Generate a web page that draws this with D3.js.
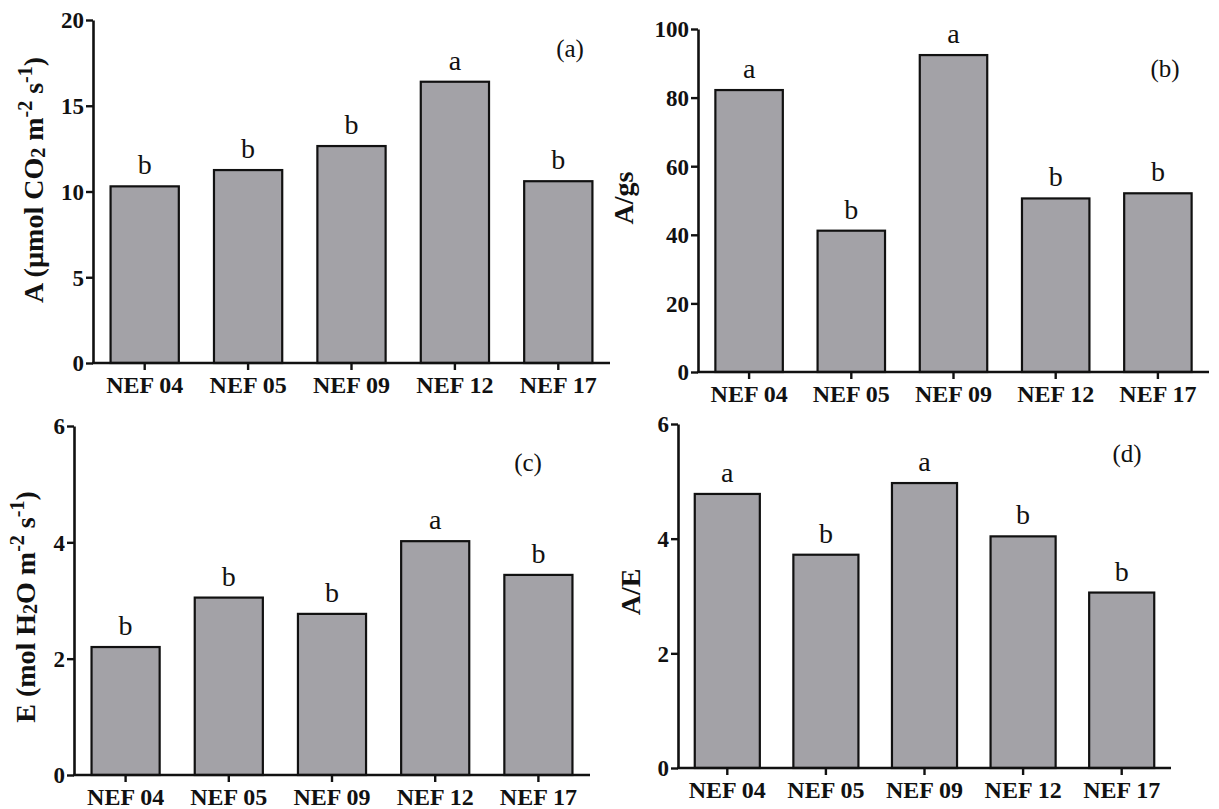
<!DOCTYPE html>
<html>
<head>
<meta charset="utf-8">
<script src="https://cdn.jsdelivr.net/npm/d3@7"></script>
<style>
  html, body { margin: 0; padding: 0; background: #fff; }
  svg { display: block; }
  text { font-family: "Liberation Serif", "Times New Roman", serif; fill: #111; }
</style>
</head>
<body>
<svg id="chart" width="1219" height="809"></svg>
<script>
// Genotypes on the x axis
const categories = ["NEF 04", "NEF 05", "NEF 09", "NEF 12", "NEF 17"];

// (a) net photosynthesis, µmol CO2 m-2 s-1
const photosynthesis = [10.3, 11.25, 12.65, 16.4, 10.6];
const photosynthesisGroups = ["b", "b", "b", "a", "b"];
const photosynthesisTicks = [0, 5, 10, 15, 20];

// (b) intrinsic water-use efficiency A/gs
const aGs = [82.2, 41.2, 92.4, 50.6, 52.1];
const aGsGroups = ["a", "b", "a", "b", "b"];
const aGsTicks = [0, 20, 40, 60, 80, 100];

// (c) transpiration, mol H2O m-2 s-1
const transpiration = [2.2, 3.05, 2.77, 4.02, 3.44];
const transpirationGroups = ["b", "b", "b", "a", "b"];
const transpirationTicks = [0, 2, 4, 6];

// (d) instantaneous water-use efficiency A/E
const aE = [4.78, 3.72, 4.97, 4.04, 3.06];
const aEGroups = ["a", "b", "a", "b", "b"];
const aETicks = [0, 2, 4, 6];

const SERIF = "'Liberation Serif', 'Times New Roman', serif";
const svg = d3.select("#chart");

const panels = [
  { values: photosynthesis, groups: photosynthesisGroups, ticks: photosynthesisTicks,
    xr: [93, 610], yr: [363, 20], tag: "(a)", tagPos: [570, 48],
    label: "A", labelPos: [33, 180] },
  { values: aGs, groups: aGsGroups, ticks: aGsTicks,
    xr: [698, 1209], yr: [372, 29], tag: "(b)", tagPos: [1165, 68],
    label: "B", labelPos: [623, 198] },
  { values: transpiration, groups: transpirationGroups, ticks: transpirationTicks,
    xr: [74, 590], yr: [775, 426], tag: "(c)", tagPos: [528, 462],
    label: "C", labelPos: [25, 607] },
  { values: aE, groups: aEGroups, ticks: aETicks,
    xr: [678, 1171], yr: [768, 424], tag: "(d)", tagPos: [1127, 453],
    label: "D", labelPos: [630, 592] }
];

// Axis titles with sub/superscripts
function writeLabel(t, kind) {
  const add = (s, shift) => {
    const ts = t.append("tspan").text(s);
    if (shift === "sub") ts.attr("baseline-shift", "-25%").style("font-size", "20px");
    if (shift === "sup") ts.attr("baseline-shift", "40%").style("font-size", "20px");
  };
  if (kind === "A") {
    add("A (\u00B5mol CO"); add("2", "sub"); add(" m"); add("-2", "sup");
    add(" s"); add("-1", "sup"); add(")");
  } else if (kind === "B") {
    add("A/gs");
  } else if (kind === "C") {
    add("E (mol H"); add("2", "sub"); add("O m"); add("-2", "sup");
    add(" s"); add("-1", "sup"); add(")");
  } else {
    add("A/E");
  }
}

panels.forEach(p => {
  const g = svg.append("g");
  const x = d3.scaleBand().domain(categories).range(p.xr)
    .paddingInner(0.34).paddingOuter(0.17);
  const ymax = p.ticks[p.ticks.length - 1];
  const y = d3.scaleLinear().domain([0, ymax]).range(p.yr);

  // bars
  g.selectAll("rect.bar").data(p.values).join("rect")
    .attr("class", "bar")
    .attr("x", (d, i) => x(categories[i]))
    .attr("y", d => y(d))
    .attr("width", x.bandwidth())
    .attr("height", d => y(0) - y(d))
    .attr("fill", "#a3a2a7")
    .attr("stroke", "#111")
    .attr("stroke-width", 2.2);

  // significance letters
  g.selectAll("text.grp").data(p.values).join("text")
    .attr("class", "grp")
    .attr("x", (d, i) => x(categories[i]) + x.bandwidth() / 2)
    .attr("y", d => y(d) - 12)
    .attr("text-anchor", "middle")
    .style("font-size", "28px")
    .text((d, i) => p.groups[i]);

  // y axis
  const yAxis = g.append("g")
    .attr("transform", `translate(${p.xr[0]},0)`)
    .call(d3.axisLeft(y).tickValues(p.ticks).tickFormat(d3.format("d"))
      .tickSize(7).tickSizeOuter(0).tickPadding(2));
  yAxis.selectAll("text").style("font-size", "23px").attr("dy", "0.34em");

  // x axis
  const xAxis = g.append("g")
    .attr("transform", `translate(0,${p.yr[0]})`)
    .call(d3.axisBottom(x).tickSize(7).tickSizeOuter(0).tickPadding(6));
  xAxis.selectAll("text").style("font-size", "24px").attr("dy", "0.72em");

  [yAxis, xAxis].forEach(a => {
    a.attr("font-family", null);
    a.select(".domain").attr("stroke", "#111").attr("stroke-width", 2.6);
    a.selectAll(".tick line").attr("stroke", "#111").attr("stroke-width", 2.4);
    a.selectAll("text")
      .style("fill", "#111")
      .style("font-family", SERIF)
      .style("font-weight", "bold");
  });
  // x-axis line spans the full band range
  xAxis.select(".domain").attr("d", `M${p.xr[0] - 1},0H${p.xr[1]}`);

  // panel tag
  g.append("text")
    .attr("x", p.tagPos[0]).attr("y", p.tagPos[1])
    .attr("text-anchor", "middle").attr("dominant-baseline", "central")
    .style("font-size", "25px")
    .text(p.tag);

  // y-axis title
  const t = g.append("text")
    .attr("transform", `translate(${p.labelPos[0]},${p.labelPos[1]}) rotate(-90)`)
    .attr("text-anchor", "middle").attr("dominant-baseline", "central")
    .style("font-size", "28px").style("font-weight", "bold");
  writeLabel(t, p.label);
});
</script>
</body>
</html>
